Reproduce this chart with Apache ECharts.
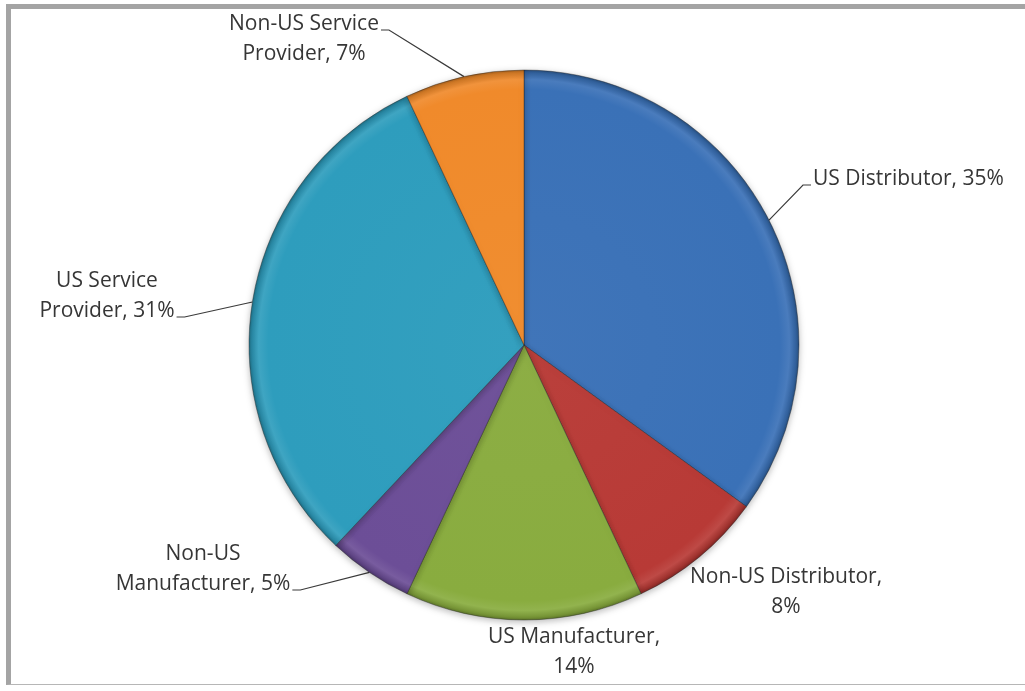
<!DOCTYPE html>
<html>
<head>
<meta charset="utf-8">
<title>Customer mix</title>
<script src="https://cdn.jsdelivr.net/npm/echarts@6/dist/echarts.min.js"></script>
<style>
  html, body { margin: 0; padding: 0; background: #ffffff; }
  body { width: 1025px; height: 691px; position: relative; overflow: hidden; }
  #frame {
    position: absolute; left: 6px; top: 4px; width: 1040px; height: 675px;
    border-top: 5px solid #a4a4a4; border-left: 5px solid #a4a4a4;
    border-bottom: 1px solid #b6b6b6; box-sizing: content-box;
  }
  #chart { position: absolute; left: 0; top: 0; width: 1025px; height: 691px; }
</style>
</head>
<body>
<div id="frame"></div>
<div id="chart"></div>
<script>
// Segment names and their share of the total (percent)
const categories = [
  'US Distributor',
  'Non-US Distributor',
  'US Manufacturer',
  'Non-US Manufacturer',
  'US Service Provider',
  'Non-US Service Provider'
];
const shares = [35, 8, 14, 5, 31, 7];

// Base fill per segment
const baseColors = ['#3a71b7', '#b83a36', '#89ac3f', '#6c4e97', '#2e9dbd', '#f08a2b'];

// Words of the name kept on the first label line (0 = whole name then value on line 2, -1 = single line)
const firstLineWords = [-1, 0, 0, 1, 2, 2];

// Pie geometry
const CX = 524, CY = 345, R = 275;
const LINE_H = 30;

// Label placement: block centre, alignment and where the leader line joins
const labelPlacement = [
  { x: 813, y: 179, align: 'left',   anchor: 'left',  line: 0 },
  { x: 786, y: 592, align: 'center' },
  { x: 574, y: 652, align: 'center' },
  { x: 203, y: 569, align: 'center', anchor: 'right', line: 1 },
  { x: 107, y: 296, align: 'center', anchor: 'right', line: 1 },
  { x: 304, y: 39,  align: 'center', anchor: 'right', line: 0 }
];

function shade(hex, f) {
  const n = parseInt(hex.slice(1), 16);
  let r = (n >> 16) & 255, g = (n >> 8) & 255, b = n & 255;
  if (f >= 0) { r += (255 - r) * f; g += (255 - g) * f; b += (255 - b) * f; }
  else { r *= 1 + f; g *= 1 + f; b *= 1 + f; }
  return 'rgb(' + Math.round(r) + ',' + Math.round(g) + ',' + Math.round(b) + ')';
}

// Soft bevel along the rim of the pie
function bevelFill(hex) {
  return {
    type: 'radial', x: CX, y: CY, r: R, global: true,
    colorStops: [
      { offset: 0,     color: shade(hex, 0.03) },
      { offset: 0.93,  color: hex },
      { offset: 0.965, color: shade(hex, 0.08) },
      { offset: 0.99,  color: shade(hex, -0.14) },
      { offset: 1,     color: shade(hex, -0.32) }
    ]
  };
}

function labelText(i) {
  const name = categories[i], pct = shares[i] + '%';
  const words = name.split(' ');
  const k = firstLineWords[i];
  if (k < 0) return name + ', ' + pct;
  if (k === 0) return name + ',\n' + pct;
  return words.slice(0, k).join(' ') + '\n' + words.slice(k).join(' ') + ', ' + pct;
}

const pieData = categories.map((name, i) => ({
  name: name,
  value: shares[i],
  itemStyle: { color: bevelFill(baseColors[i]) },
  labelLine: { show: !!labelPlacement[i].anchor }
}));

const chart = echarts.init(document.getElementById('chart'), null, { renderer: 'canvas' });

chart.setOption({
  backgroundColor: 'transparent',
  animation: false,
  series: [{
    type: 'pie',
    center: [CX, CY],
    radius: R,
    startAngle: 90,
    clockwise: true,
    avoidLabelOverlap: false,
    data: pieData,
    itemStyle: {
      borderColor: 'rgba(30,30,30,0.38)',
      borderWidth: 1,
      shadowBlur: 7,
      shadowOffsetX: 0,
      shadowOffsetY: 2,
      shadowColor: 'rgba(0,0,0,0.28)'
    },
    label: {
      show: true,
      position: 'outside',
      formatter: p => labelText(p.dataIndex),
      fontFamily: '"Open Sans", Lato, sans-serif',
      fontSize: 21,
      lineHeight: LINE_H,
      color: '#363636',
      align: 'center'
    },
    labelLine: {
      show: true,
      length: 10,
      length2: 10,
      lineStyle: { color: '#3a3a3a', width: 1.2 }
    },
    emphasis: { disabled: true },
    labelLayout: function (params) {
      const cfg = labelPlacement[params.dataIndex];
      const w = params.labelRect.width, h = params.labelRect.height;
      const left = cfg.align === 'left' ? cfg.x : cfg.x - w / 2;
      const top = cfg.y - h / 2;
      const out = { x: cfg.x, y: cfg.y, align: cfg.align, verticalAlign: 'middle' };
      if (cfg.anchor && params.labelLinePoints && params.labelLinePoints.length) {
        const dir = cfg.anchor === 'right' ? 1 : -1;
        const ax = cfg.anchor === 'right' ? left + w : left;
        const ay = top + cfg.line * LINE_H + LINE_H / 2 + 6;
        const p0 = params.labelLinePoints[0];
        out.labelLinePoints = [
          [p0[0], p0[1]],
          [ax + dir * 10, ay],
          [ax + dir * 2, ay]
        ];
      }
      return out;
    }
  }]
});
</script>
</body>
</html>
